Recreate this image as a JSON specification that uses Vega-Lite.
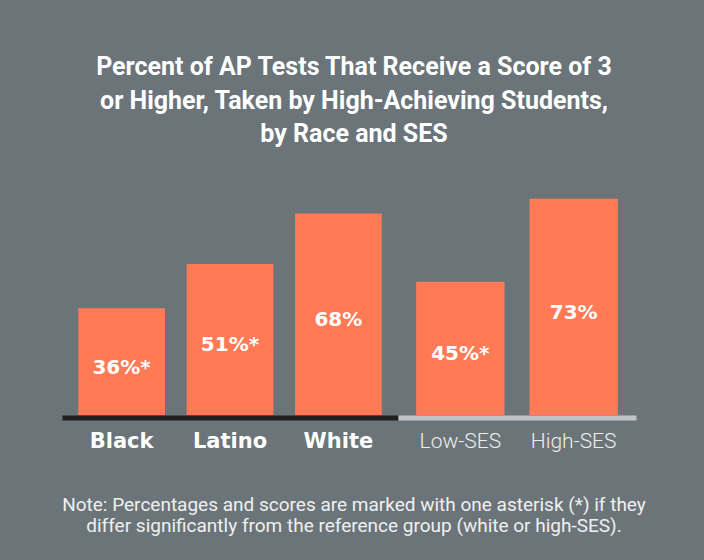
{
  "$schema": "https://vega.github.io/schema/vega-lite/v6.json",
  "background": "#6a7479",
  "padding": {"left": 62, "top": 55, "right": 68, "bottom": 28},
  "config": {"view": {"stroke": null}},
  "datasets": {
    "race": [
      {"group": "Black", "value": 36, "label": "36%*"},
      {"group": "Latino", "value": 51, "label": "51%*"},
      {"group": "White", "value": 68, "label": "68%"}
    ],
    "ses": [
      {"group": "Low-SES", "value": 45, "label": "45%*"},
      {"group": "High-SES", "value": 73, "label": "73%"}
    ]
  },
  "title": {
    "text": ["Note: Percentages and scores are marked with one asterisk (*) if they", "differ significantly from the reference group (white or high-SES)."],
    "orient": "bottom",
    "anchor": "middle",
    "font": "Roboto",
    "fontSize": 19,
    "fontWeight": "normal",
    "color": "#f0f0f0",
    "lineHeight": 21.5,
    "offset": 44,
    "dx": 5
  },
  "vconcat": [
    {
      "title": {
        "text": ["Percent of AP Tests That Receive a Score of 3", "or Higher, Taken by High-Achieving Students,", "by Race and SES"],
        "anchor": "middle",
        "font": "Roboto",
        "fontSize": 25,
        "fontWeight": "bold",
        "color": "#ffffff",
        "lineHeight": 33.5,
        "offset": 31,
        "dx": 5
      },
      "spacing": 0,
      "bounds": "flush",
      "hconcat": [
        {
          "width": 336,
          "height": 237,
          "data": {"name": "race"},
          "encoding": {
            "x": {
              "field": "group", "type": "nominal", "sort": null,
              "scale": {"paddingInner": 0.2, "paddingOuter": 0.15},
              "axis": {
                "title": null, "labelAngle": 0, "ticks": false,
                "domainColor": "#1f1f1f", "domainWidth": 5, "offset": 2.5,
                "labelFont": "DejaVu Sans", "labelFontWeight": "bold", "labelFontSize": 21,
                "labelColor": "#ffffff", "labelPadding": 13
              }
            }
          },
          "layer": [
            {
              "mark": {"type": "bar", "color": "#ff7a55"},
              "encoding": {
                "y": {"field": "value", "type": "quantitative", "scale": {"domain": [0, 80], "nice": false}, "axis": null}
              }
            },
            {
              "transform": [{"calculate": "datum.value / 2", "as": "mid"}],
              "mark": {"type": "text", "font": "DejaVu Sans", "fontWeight": "bold", "fontSize": 20, "color": "#ffffff", "baseline": "middle", "dy": 6},
              "encoding": {
                "y": {"field": "mid", "type": "quantitative", "scale": {"domain": [0, 80], "nice": false}, "axis": null},
                "text": {"field": "label"}
              }
            }
          ]
        },
        {
          "width": 238,
          "height": 237,
          "data": {"name": "ses"},
          "encoding": {
            "x": {
              "field": "group", "type": "nominal", "sort": null,
              "scale": {"paddingInner": 0.22, "paddingOuter": 0.16},
              "axis": {
                "title": null, "labelAngle": 0, "ticks": false,
                "domainColor": "#bfc3c5", "domainWidth": 5, "offset": 2.5,
                "labelFont": "Roboto", "labelFontWeight": 300, "labelFontSize": 21,
                "labelColor": "#eeeeee", "labelPadding": 13
              }
            }
          },
          "layer": [
            {
              "mark": {"type": "bar", "color": "#ff7a55"},
              "encoding": {
                "y": {"field": "value", "type": "quantitative", "scale": {"domain": [0, 80], "nice": false}, "axis": null}
              }
            },
            {
              "transform": [{"calculate": "datum.value / 2", "as": "mid"}],
              "mark": {"type": "text", "font": "DejaVu Sans", "fontWeight": "bold", "fontSize": 20, "color": "#ffffff", "baseline": "middle", "dy": 6},
              "encoding": {
                "y": {"field": "mid", "type": "quantitative", "scale": {"domain": [0, 80], "nice": false}, "axis": null},
                "text": {"field": "label"}
              }
            }
          ]
        }
      ]
    }
  ]
}
